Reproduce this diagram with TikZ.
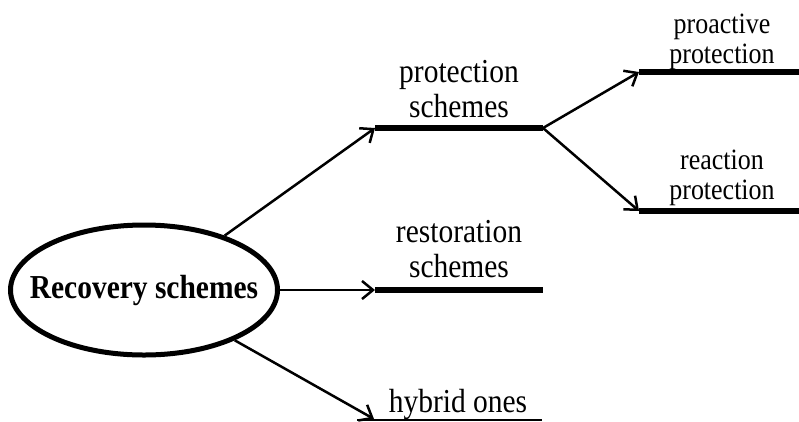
\documentclass[tikz,border=0pt]{standalone}
\usepackage{fontspec}
\setmainfont{Liberation Serif}[FakeStretch=0.88]
\usetikzlibrary{arrows.meta,shapes.geometric}
\begin{document}
\begin{tikzpicture}[x=1pt,y=-1pt,
  conn/.style={line width=2.5pt,-{Straight Barb[length=11pt,width=18pt,line width=2.5pt]}},
  branch/.style={line width=6pt},
  thinbranch/.style={line width=2pt},
  lbl/.style={align=center,inner sep=0pt,anchor=base,font=\fontsize{33.5}{34.5}\selectfont},
  smalllbl/.style={align=center,inner sep=0pt,anchor=base,font=\fontsize{29.5}{30}\selectfont},
]
\useasboundingbox (0,0) rectangle (799,421);

% root ellipse (text set in a zero-width box so the given size fixes the outline)
\node[ellipse,draw,line width=5pt,minimum width=267pt,minimum height=130pt,inner sep=0pt,
      font=\fontsize{33.5}{34}\selectfont\bfseries] (root) at (144,290)
      {\makebox[0pt]{Recovery schemes}};

% branch lines
\coordinate (psA) at (375,128); \coordinate (psB) at (543,128);
\coordinate (rsA) at (375,290); \coordinate (rsB) at (543,290);
\coordinate (hoA) at (357,420); \coordinate (hoB) at (542,420);
\coordinate (ppA) at (639,72);  \coordinate (ppB) at (799,72);
\coordinate (rpA) at (639,211); \coordinate (rpB) at (799,211);
\coordinate (hoTip) at (374,419);

\draw[branch] (psA) -- (psB);
\draw[branch] (rsA) -- (rsB);
\draw[thinbranch] (hoA) -- (hoB);
\draw[branch] (ppA) -- (ppB);
\draw[branch] (rpA) -- (rpB);

% labels
\node[lbl] (ps) at (459,117) {protection\\schemes};
\node[lbl] (rs) at (459,277) {restoration\\schemes};
\node[lbl] (ho) at (458,412) {hybrid ones};
\node[smalllbl] (pp) at (722,63) {proactive\\protection};
\node[smalllbl] (rp) at (722,199) {reaction\\protection};

% connectors
\draw[conn] (root.34) -- (psA);
\draw[conn] (root.east) -- (rsA);
\draw[conn] (root.-29) -- (hoTip);
\draw[conn] (psB) -- (ppA);
\draw[conn] (psB) -- (rpA);
\end{tikzpicture}
\end{document}
